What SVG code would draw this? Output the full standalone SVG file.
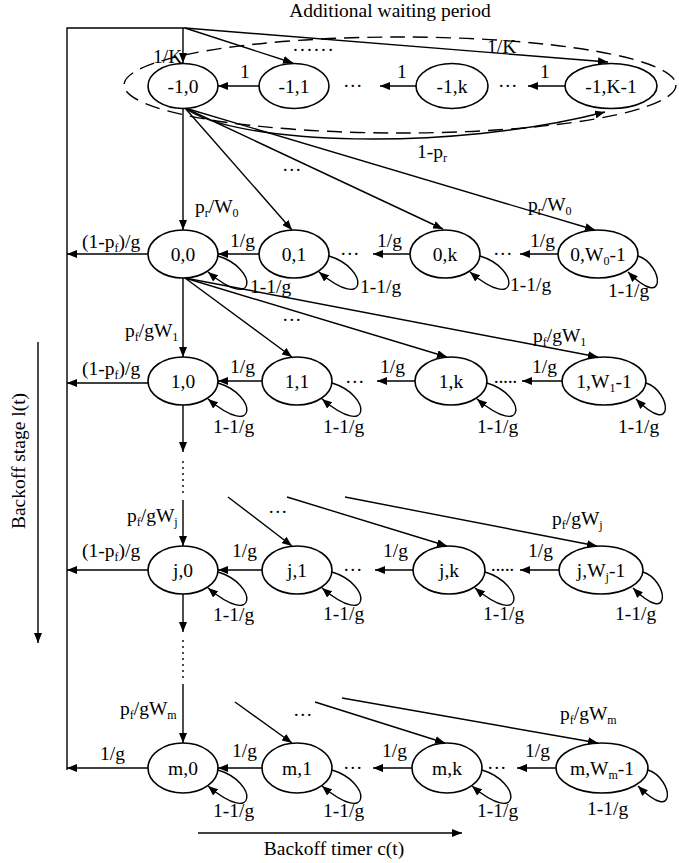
<svg xmlns="http://www.w3.org/2000/svg" width="679" height="863" viewBox="0 0 679 863">
<defs>
<marker id="ah" markerUnits="userSpaceOnUse" markerWidth="11" markerHeight="8" refX="10" refY="4" orient="auto">
<path d="M0,0 L10,4 L0,8 z" fill="#000"/>
</marker>
<style>
text{font-family:"Liberation Serif","Times New Roman",serif;font-size:19.5px;fill:#000}
.sub{font-size:12px}
.node ellipse{fill:#fff;stroke:#000;stroke-width:1.6}
.node text{text-anchor:middle}
#connectors line,#connectors path{stroke:#000;stroke-width:1.4;fill:none}
#connectors .arr{marker-end:url(#ah)}
#connectors .dash{stroke-dasharray:15,8}
#connectors .dot{stroke-dasharray:2,4}
</style>
</defs>
<rect width="679" height="863" fill="#fff"/>

<g id="connectors">
<path d="M67,770 V28 H185"/>
<line class="arr" x1="183" y1="28" x2="183" y2="63"/>
<line class="arr" x1="185" y1="28" x2="293" y2="63"/>
<line class="arr" x1="185" y1="28" x2="608" y2="62"/>
<ellipse class="dash" cx="400" cy="85" rx="276" ry="48" style="stroke:#000;stroke-width:1.4;fill:none;stroke-dasharray:15,8"/>
<line class="arr" x1="259" y1="86" x2="218" y2="86"/>
<line class="arr" x1="416" y1="86" x2="380" y2="86"/>
<line class="arr" x1="565" y1="86" x2="528" y2="86"/>
<path class="arr" d="M185,108 C235,145 450,152 605,112"/>
<line class="arr" x1="183" y1="108" x2="183" y2="230"/>
<line class="arr" x1="185" y1="108" x2="292" y2="230"/>
<line class="arr" x1="185" y1="108" x2="443" y2="229"/>
<line class="arr" x1="185" y1="108" x2="595" y2="230"/>

<line class="arr" x1="148" y1="254" x2="67" y2="254"/>
<line class="arr" x1="259" y1="254" x2="218" y2="254"/>
<line class="arr" x1="410" y1="254" x2="373" y2="254"/>
<line class="arr" x1="558" y1="254" x2="520" y2="254"/>
<path class="arr" d="M218,256 C258,268 258,314 208,272"/>
<path class="arr" d="M329,256 C369,268 369,314 319,272"/>
<path class="arr" d="M480,256 C520,268 520,314 470,272"/>
<path class="arr" d="M638,256 C663,264 668,312 628,272"/>

<line class="arr" x1="183" y1="278" x2="183" y2="357"/>
<line class="arr" x1="185" y1="278" x2="292" y2="357"/>
<line class="arr" x1="185" y1="278" x2="447" y2="357"/>
<line class="arr" x1="185" y1="278" x2="598" y2="357"/>

<line class="arr" x1="148" y1="383" x2="67" y2="383"/>
<line class="arr" x1="262" y1="381" x2="218" y2="381"/>
<line class="arr" x1="415" y1="381" x2="377" y2="381"/>
<line class="arr" x1="562" y1="381" x2="522" y2="381"/>
<path class="arr" d="M218,383 C258,395 258,441 208,399"/>
<path class="arr" d="M332,383 C372,395 372,441 322,399"/>
<path class="arr" d="M487,383 C527,395 527,441 477,399"/>
<path class="arr" d="M646,383 C671,391 676,439 636,399"/>

<line class="arr" x1="183" y1="405" x2="183" y2="452"/>
<line class="dot" x1="183" y1="461" x2="183" y2="497"/>
<line class="arr" x1="183" y1="500" x2="183" y2="546"/>
<line class="arr" x1="228" y1="497" x2="292" y2="546"/>
<line class="arr" x1="287" y1="497" x2="447" y2="546"/>
<line class="arr" x1="345" y1="497" x2="597" y2="546"/>

<line class="arr" x1="148" y1="570" x2="67" y2="570"/>
<line class="arr" x1="262" y1="570" x2="218" y2="570"/>
<line class="arr" x1="413" y1="570" x2="375" y2="570"/>
<line class="arr" x1="559" y1="570" x2="520" y2="570"/>
<path class="arr" d="M218,572 C258,584 258,630 208,588"/>
<path class="arr" d="M332,572 C372,584 372,630 322,588"/>
<path class="arr" d="M485,572 C525,584 525,630 475,588"/>
<path class="arr" d="M643,572 C668,580 673,628 633,588"/>

<line class="arr" x1="183" y1="594" x2="183" y2="632"/>
<line class="dot" x1="183" y1="640" x2="183" y2="678"/>
<line class="arr" x1="183" y1="684" x2="183" y2="743"/>
<line class="arr" x1="235" y1="702" x2="292" y2="743"/>
<line class="arr" x1="315" y1="702" x2="445" y2="743"/>
<line class="arr" x1="342" y1="698" x2="598" y2="743"/>

<line class="arr" x1="148" y1="768" x2="67" y2="768"/>
<line class="arr" x1="262" y1="768" x2="218" y2="768"/>
<line class="arr" x1="412" y1="768" x2="373" y2="768"/>
<line class="arr" x1="556" y1="768" x2="517" y2="768"/>
<path class="arr" d="M218,770 C258,782 258,828 208,786"/>
<path class="arr" d="M332,770 C372,782 372,828 322,786"/>
<path class="arr" d="M482,770 C522,782 522,828 472,786"/>
<path class="arr" d="M648,770 C673,778 678,826 638,786"/>

<line class="arr" x1="198" y1="833" x2="462" y2="833"/>
<line class="arr" x1="38" y1="342" x2="38" y2="643"/>
</g>

<g id="n-1_0" class="node"><ellipse cx="183" cy="86" rx="35" ry="22.5"/><text x="183" y="92.5">-1,0</text></g>
<g id="n-1_1" class="node"><ellipse cx="294" cy="86" rx="35" ry="22.5"/><text x="294" y="92.5">-1,1</text></g>
<g id="n-1_k" class="node"><ellipse cx="452" cy="86" rx="36" ry="22.5"/><text x="452" y="92.5">-1,k</text></g>
<g id="n-1_K1" class="node"><ellipse cx="611" cy="86" rx="46" ry="22.5"/><text x="611" y="92.5">-1,K-1</text></g>

<g id="n0_0" class="node"><ellipse cx="183" cy="254" rx="35" ry="24"/><text x="183" y="260.5">0,0</text></g>
<g id="n0_1" class="node"><ellipse cx="294" cy="254" rx="35" ry="24"/><text x="294" y="260.5">0,1</text></g>
<g id="n0_k" class="node"><ellipse cx="445" cy="254" rx="35" ry="24"/><text x="445" y="260.5">0,k</text></g>
<g id="n0_W" class="node"><ellipse cx="598" cy="254" rx="40" ry="24"/><text x="598" y="260.5">0,W<tspan class="sub" dy="4">0</tspan><tspan dy="-4">-1</tspan></text></g>

<g id="n1_0" class="node"><ellipse cx="183" cy="381" rx="35" ry="24"/><text x="183" y="387.5">1,0</text></g>
<g id="n1_1" class="node"><ellipse cx="297" cy="381" rx="35" ry="24"/><text x="297" y="387.5">1,1</text></g>
<g id="n1_k" class="node"><ellipse cx="451" cy="381" rx="36" ry="24"/><text x="451" y="387.5">1,k</text></g>
<g id="n1_W" class="node"><ellipse cx="604" cy="381" rx="42" ry="24"/><text x="604" y="387.5">1,W<tspan class="sub" dy="4">1</tspan><tspan dy="-4">-1</tspan></text></g>

<g id="nj_0" class="node"><ellipse cx="183" cy="570" rx="35" ry="24"/><text x="183" y="576.5">j,0</text></g>
<g id="nj_1" class="node"><ellipse cx="297" cy="570" rx="35" ry="24"/><text x="297" y="576.5">j,1</text></g>
<g id="nj_k" class="node"><ellipse cx="449" cy="570" rx="36" ry="24"/><text x="449" y="576.5">j,k</text></g>
<g id="nj_W" class="node"><ellipse cx="601" cy="570" rx="42" ry="24"/><text x="601" y="576.5">j,W<tspan class="sub" dy="4">j</tspan><tspan dy="-4">-1</tspan></text></g>

<g id="nm_0" class="node"><ellipse cx="183" cy="768" rx="35" ry="25"/><text x="183" y="774.5">m,0</text></g>
<g id="nm_1" class="node"><ellipse cx="297" cy="768" rx="35" ry="25"/><text x="297" y="774.5">m,1</text></g>
<g id="nm_k" class="node"><ellipse cx="447" cy="768" rx="35" ry="25"/><text x="447" y="774.5">m,k</text></g>
<g id="nm_W" class="node"><ellipse cx="602" cy="768" rx="46" ry="25"/><text x="602" y="774.5">m,W<tspan class="sub" dy="4">m</tspan><tspan dy="-4">-1</tspan></text></g>

<g id="labels">
<text x="390" y="17" text-anchor="middle">Additional waiting period</text>
<text x="153" y="63">1/K</text>
<text x="487" y="53">1/K</text>
<text x="293" y="51" textLength="40">......</text>
<text x="240" y="78">1</text>
<text x="397" y="78">1</text>
<text x="540" y="78">1</text>
<text x="343" y="92">···</text>
<text x="498" y="92">···</text>
<text x="417" y="158">1-p<tspan class="sub" dy="4">r</tspan></text>
<text x="282" y="176">···</text>
<text x="195" y="213">p<tspan class="sub" dy="4">r</tspan><tspan dy="-4">/W</tspan><tspan class="sub" dy="4">0</tspan></text>
<text x="528" y="211">p<tspan class="sub" dy="4">r</tspan><tspan dy="-4">/W</tspan><tspan class="sub" dy="4">0</tspan></text>

<text x="82" y="248">(1-p<tspan class="sub" dy="4">f</tspan><tspan dy="-4">)/g</tspan></text>
<text x="230" y="247">1/g</text>
<text x="377" y="247">1/g</text>
<text x="530" y="247">1/g</text>
<text x="340" y="260">···</text>
<text x="493" y="260">···</text>
<text x="250" y="293">1-1/g</text>
<text x="360" y="293">1-1/g</text>
<text x="510" y="291">1-1/g</text>
<text x="608" y="297">1-1/g</text>

<text x="282" y="326">···</text>
<text x="125" y="337">p<tspan class="sub" dy="4">f</tspan><tspan dy="-4">/gW</tspan><tspan class="sub" dy="4">1</tspan></text>
<text x="533" y="342">p<tspan class="sub" dy="4">f</tspan><tspan dy="-4">/gW</tspan><tspan class="sub" dy="4">1</tspan></text>
<text x="82" y="375">(1-p<tspan class="sub" dy="4">f</tspan><tspan dy="-4">)/g</tspan></text>
<text x="230" y="373">1/g</text>
<text x="380" y="373">1/g</text>
<text x="532" y="373">1/g</text>
<text x="345" y="388">···</text>
<text x="493" y="388" textLength="25">·····</text>
<text x="213" y="433">1-1/g</text>
<text x="323" y="433">1-1/g</text>
<text x="477" y="433">1-1/g</text>
<text x="618" y="433">1-1/g</text>

<text x="268" y="518">···</text>
<text x="127" y="522">p<tspan class="sub" dy="4">f</tspan><tspan dy="-4">/gW</tspan><tspan class="sub" dy="4">j</tspan></text>
<text x="552" y="525">p<tspan class="sub" dy="4">f</tspan><tspan dy="-4">/gW</tspan><tspan class="sub" dy="4">j</tspan></text>
<text x="82" y="557">(1-p<tspan class="sub" dy="4">f</tspan><tspan dy="-4">)/g</tspan></text>
<text x="232" y="557">1/g</text>
<text x="383" y="557">1/g</text>
<text x="528" y="557">1/g</text>
<text x="343" y="576">···</text>
<text x="490" y="576" textLength="25">·····</text>
<text x="213" y="621">1-1/g</text>
<text x="323" y="620">1-1/g</text>
<text x="483" y="620">1-1/g</text>
<text x="615" y="620">1-1/g</text>

<text x="293" y="721">···</text>
<text x="120" y="715">p<tspan class="sub" dy="4">f</tspan><tspan dy="-4">/gW</tspan><tspan class="sub" dy="4">m</tspan></text>
<text x="560" y="720">p<tspan class="sub" dy="4">f</tspan><tspan dy="-4">/gW</tspan><tspan class="sub" dy="4">m</tspan></text>
<text x="100" y="760">1/g</text>
<text x="232" y="757">1/g</text>
<text x="382" y="757">1/g</text>
<text x="525" y="757">1/g</text>
<text x="343" y="774">···</text>
<text x="487" y="774">···</text>
<text x="213" y="817">1-1/g</text>
<text x="323" y="817">1-1/g</text>
<text x="477" y="817">1-1/g</text>
<text x="587" y="815">1-1/g</text>

<text x="334" y="855" text-anchor="middle">Backoff timer c(t)</text>
<text transform="translate(25,461) rotate(-90)" text-anchor="middle">Backoff stage l(t)</text>
</g>
</svg>
